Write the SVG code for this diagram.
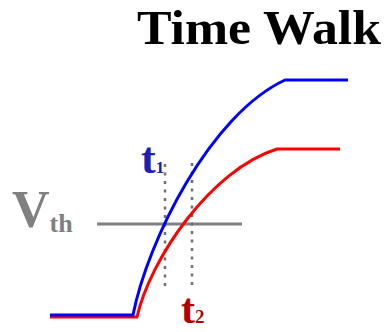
<svg xmlns="http://www.w3.org/2000/svg" width="385" height="332" viewBox="0 0 385 332">
<style>
.lbl{font-family:"Liberation Serif","Times New Roman",serif;font-weight:bold}
.dot{stroke:#707070;stroke-width:2.5;stroke-dasharray:3 5.5;fill:none}
.sig{fill:none;stroke-width:3;stroke-linejoin:round}
</style>
<rect width="385" height="332" fill="#ffffff"/>
<text id="title" class="lbl" x="137" y="44" font-size="49" fill="#000000" textLength="244" lengthAdjust="spacingAndGlyphs">Time Walk</text>
<g id="threshold">
<line x1="97" y1="224" x2="242" y2="224" stroke="#808080" stroke-width="3"/>
<text class="lbl" x="12" y="227" font-size="52" fill="#808080">V<tspan font-size="26" dy="5">th</tspan></text>
</g>
<g id="connectors">
<line class="dot" x1="165" y1="164" x2="165" y2="286"/>
<line class="dot" x1="192" y1="163" x2="192" y2="286"/>
</g>
<g id="red">
<path class="sig" stroke="#ff0000" d="M50,317 L137,317 C150,260 210,170 277,149 L340,149"/>
</g>
<g id="blue">
<path class="sig" stroke="#0000ff" d="M50,315 L133,315 C148,240 210,115 285,80 L348,80"/>
</g>
<g id="t1">
<text class="lbl" x="141" y="173" font-size="44" fill="#2020b0">t<tspan font-size="17">1</tspan></text>
</g>
<g id="t2">
<text class="lbl" x="181" y="322.5" font-size="42" fill="#b00000">t<tspan font-size="19">2</tspan></text>
</g>
</svg>
